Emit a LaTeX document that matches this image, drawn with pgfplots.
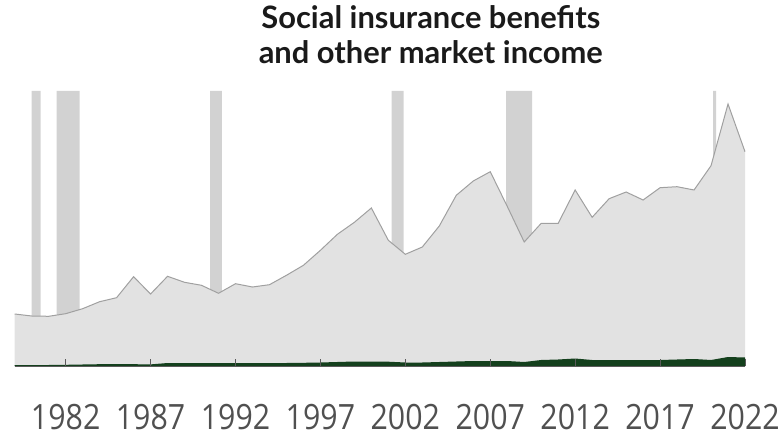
\documentclass[border=0pt]{standalone}
\usepackage{fontspec}
\setmainfont{Lato}
\newfontfamily\tickfont{Open Sans}
\usepackage{pgfplots}
\usepackage{pgfplotstable}
\pgfplotsset{compat=1.18}
\definecolor{recbar}{HTML}{D2D2D2}
\definecolor{areagray}{HTML}{E2E2E2}
\definecolor{linegray}{HTML}{A0A0A0}
\definecolor{darkgreen}{HTML}{14401D}
\definecolor{axisgray}{HTML}{5A5A5A}
\definecolor{ticklab}{HTML}{505050}
\definecolor{titlecol}{HTML}{1A1A1A}
\newcommand{\tl}[1]{\scalebox{0.87}[1]{#1}}
\pgfplotstableread{
year total
1979 52
1980 50
1981 49.7
1982 52.3
1983 57.3
1984 64.3
1985 68.3
1986 89.3
1987 72
1988 89.7
1989 83.7
1990 80.7
1991 72.7
1992 82.3
1993 79
1994 81.3
1995 90.7
1996 100.7
1997 115.7
1998 131.7
1999 143.7
2000 158
2001 125.7
2002 111.7
2003 119
2004 140
2005 170.7
2006 185
2007 194.3
2008 159.7
2009 124
2010 142.7
2011 142.7
2012 176
2013 148.7
2014 167.3
2015 174
2016 166
2017 178.3
2018 179.3
2019 176
2020 200.3
2021 262
2022 214.3
}\totaldata
\pgfplotstableread{
year part
1979 1
1980 1
1981 1
1982 1.2
1983 1.5
1984 1.8
1985 2
1986 1.8
1987 1.6
1988 3
1989 3
1990 3
1991 3
1992 3
1993 3
1994 3
1995 3
1996 3.2
1997 3.5
1998 4
1999 4.5
2000 4.5
2001 4.3
2002 3.5
2003 3.5
2004 4
2005 4.5
2006 5
2007 5
2008 5
2009 4
2010 6
2011 6.5
2012 7.5
2013 6
2014 6
2015 6
2016 6
2017 6
2018 6.5
2019 7
2020 6
2021 9
2022 8.5
}\greendata
\begin{document}
\begin{tikzpicture}
\path[use as bounding box] (-14.7bp,-68bp) rectangle (768.3bp,366bp);
\begin{axis}[
  at={(0,0)}, anchor=south west,
  scale only axis, width=730.3bp, height=275bp,
  xmin=1979, xmax=2022, ymin=0, ymax=275,
  axis x line*=bottom, axis y line=none,
  axis on top,
  xtick={1982,1987,1992,1997,2002,2007,2012,2017,2022},
  xticklabels={\tl{1982},\tl{1987},\tl{1992},\tl{1997},\tl{2002},\tl{2007},\tl{2012},\tl{2017},\tl{2022}},
  major tick length=7bp, xtick align=inside,
  x axis line style={color=axisgray, line width=1bp},
  xtick style={color=axisgray, line width=1bp},
  xticklabel style={anchor=base, yshift=-63bp, inner sep=0pt,
    font=\tickfont\fontsize{35}{35}\selectfont, text=ticklab},
  clip=false,
]
% recession bands
\addplot[fill=recbar, draw=none] coordinates {(1980.0,0)(1980.0,275)(1980.52,275)(1980.52,0)} \closedcycle;
\addplot[fill=recbar, draw=none] coordinates {(1981.47,0)(1981.47,275)(1982.83,275)(1982.83,0)} \closedcycle;
\addplot[fill=recbar, draw=none] coordinates {(1990.5,0)(1990.5,275)(1991.2,275)(1991.2,0)} \closedcycle;
\addplot[fill=recbar, draw=none] coordinates {(2001.2,0)(2001.2,275)(2001.9,275)(2001.9,0)} \closedcycle;
\addplot[fill=recbar, draw=none] coordinates {(2007.93,0)(2007.93,275)(2009.47,275)(2009.47,0)} \closedcycle;
\addplot[fill=recbar, draw=none] coordinates {(2020.13,0)(2020.13,275)(2020.3,275)(2020.3,0)} \closedcycle;
% total area
\addplot[fill=areagray, draw=none] table[x=year, y=total] {\totaldata} \closedcycle;
\addplot[draw=linegray, line width=1bp] table[x=year, y=total] {\totaldata};
% green area
\addplot[fill=darkgreen, draw=none] table[x=year, y=part] {\greendata} \closedcycle;
\end{axis}
\node[font=\bfseries\fontsize{31}{34}\selectfont, anchor=base, text=titlecol] at (416.1bp,337bp) {Social insurance benefits};
\node[font=\bfseries\fontsize{31}{34}\selectfont, anchor=base, text=titlecol] at (416.1bp,302bp) {and other market income};
\end{tikzpicture}
\end{document}
